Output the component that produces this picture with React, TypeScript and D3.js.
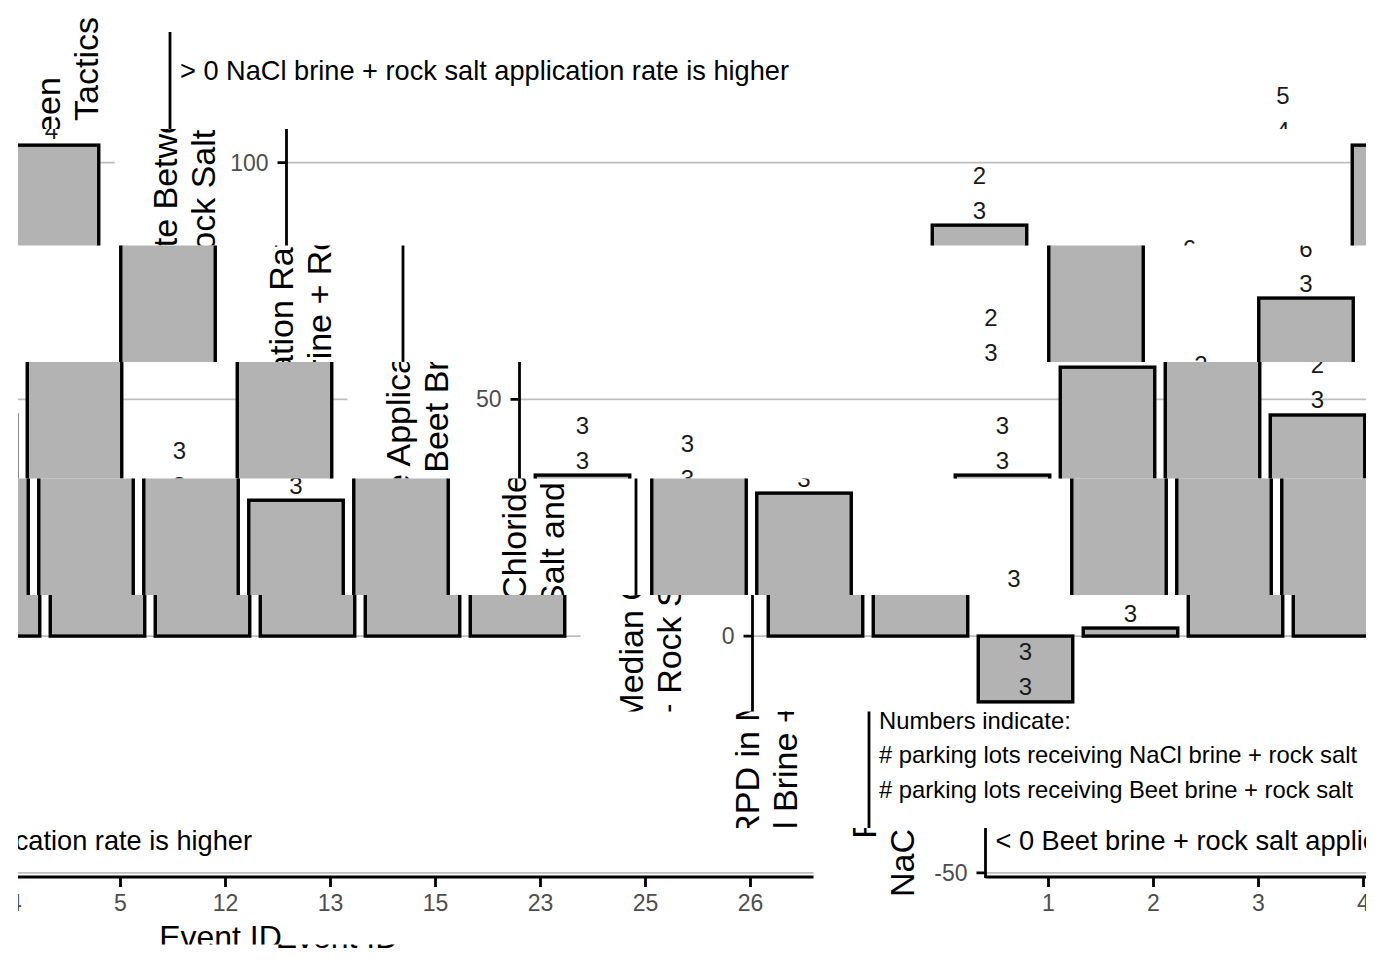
import * as d3 from 'd3'
import React from 'react'

// event IDs on the x axis and the RPD value of each bar
const events = ['1', '2', '3', '4', '5', '12', '13', '15', '23', '25', '26']
const rpd = [34.0, 30.2, -13.9, 1.7, 34.0, 56.8, 86.8, 46.7, 71.4, 28.7, 103.7]
// parking lot counts printed above each bar
const naclLots = [3, 3, 3, 3, 3, 2, 2, 2, 6, 3, 5]
const beetLots = [3, 3, 3, 3, 3, 3, 3, 3, 3, 3, 4]
const yTicks = [-50, 0, 50, 100]
const yTitle = [
  'RPD in Median Chloride Application Rate Between',
  'NaCl Brine + Rock Salt and Beet Brine + Rock Salt Tactics',
]
const legendLines = [
  'Numbers indicate:',
  '# parking lots receiving NaCl brine + rock salt',
  '# parking lots receiving Beet brine + rock salt',
]

const font = '"Liberation Sans", Arial, sans-serif'

// the picture is sliced in horizontal strips, each one slid to the right and wrapped
const W = 1348
const left0 = 18
const stripH = 116.5
const strips = d3.range(9).map(k => ({
  top: k === 0 ? 0 : 12.5 + stripH * k,
  bottom: 12.5 + stripH * (k + 1),
  shift: -20 + stripH * k,
}))

function Chart() {
  const axisX = 172
  const x = d3.scalePoint().domain(events).range([axisX, W]).padding(0.6)
  const y = d3.scaleLinear().domain([-51.1, 127.6]).range([878, 32])
  const bw = x.step() * 0.9
  const top = y.range()[1]
  const bottom = y.range()[0]

  return (
    <g fontFamily={font}>
      {yTicks.map(t => (
        <line key={'g' + t} x1={axisX} x2={W} y1={y(t)} y2={y(t)} stroke="#bebebe" strokeWidth={1.7} />
      ))}
      {events.map((e, i) => {
        const v = rpd[i]
        const y0 = y(0)
        const y1 = y(v)
        return (
          <g key={e}>
            <rect
              x={x(e)! - bw / 2}
              y={Math.min(y0, y1)}
              width={bw}
              height={Math.abs(y1 - y0)}
              fill="#b3b3b3"
              stroke="#000"
              strokeWidth={3.4}
            />
            <text x={x(e)} y={y1 - 50} textAnchor="middle" dominantBaseline="central" fontSize={24} fill="#1a1a1a">
              {naclLots[i]}
            </text>
            <text x={x(e)} y={y1 - 15} textAnchor="middle" dominantBaseline="central" fontSize={24} fill="#1a1a1a">
              {beetLots[i]}
            </text>
          </g>
        )
      })}
      {/* axes */}
      <line x1={axisX} x2={axisX} y1={top} y2={bottom} stroke="#000" strokeWidth={2.8} />
      <line x1={axisX} x2={W} y1={bottom - 1} y2={bottom - 1} stroke="#000" strokeWidth={2.8} />
      {yTicks.map(t => (
        <g key={'t' + t}>
          <line x1={axisX - 9} x2={axisX} y1={y(t)} y2={y(t)} stroke="#000" strokeWidth={2.8} />
          <text x={axisX - 18} y={y(t)} textAnchor="end" dominantBaseline="central" fontSize={23} fill="#4d4d4d">
            {t}
          </text>
        </g>
      ))}
      {events.map(e => (
        <g key={'x' + e}>
          <line x1={x(e)} x2={x(e)} y1={bottom} y2={bottom + 9} stroke="#000" strokeWidth={2.8} />
          <text x={x(e)} y={903} textAnchor="middle" dominantBaseline="central" fontSize={23} fill="#4d4d4d">
            {e}
          </text>
        </g>
      ))}
      {/* titles */}
      {yTitle.map((t, i) => (
        <text
          key={t}
          transform={`translate(${62 + i * 38},${458 - i}) rotate(-90)`}
          textAnchor="middle"
          fontSize={34}
          fill="#000"
        >
          {t}
        </text>
      ))}
      <text x={(axisX + W) / 2 - 5} y={948} textAnchor="middle" fontSize={32} fill="#000">
        Event ID
      </text>
      {/* annotations */}
      <text x={182} y={70} dominantBaseline="central" fontSize={27.2} fill="#000">
        &gt; 0 NaCl brine + rock salt application rate is higher
      </text>
      <text x={182} y={840} dominantBaseline="central" fontSize={27.2} fill="#000">
        &lt; 0 Beet brine + rock salt application rate is higher
      </text>
      {legendLines.map((t, i) => (
        <text key={t} x={182} y={720 + i * 34.5} dominantBaseline="central" fontSize={23.8} fill="#000">
          {t}
        </text>
      ))}
    </g>
  )
}

export default function App() {
  return (
    <svg width={1383} height={966} style={{ position: 'absolute', left: 0, top: 0, background: '#fff' }}>
      <defs>
        <g id="chart">
          <Chart />
        </g>
        {strips.map((s, k) => (
          <clipPath key={k} id={'strip' + k}>
            <rect x={left0} y={s.top} width={W} height={s.bottom - s.top} />
          </clipPath>
        ))}
      </defs>
      <rect width={1383} height={966} fill="#fff" />
      {strips.map((s, k) => (
        <g key={k} clipPath={`url(#strip${k})`}>
          {[-1, 0, 1].map(m => (
            <use key={m} href="#chart" x={left0 + s.shift + m * W} y={0} />
          ))}
        </g>
      ))}
    </svg>
  )
}
